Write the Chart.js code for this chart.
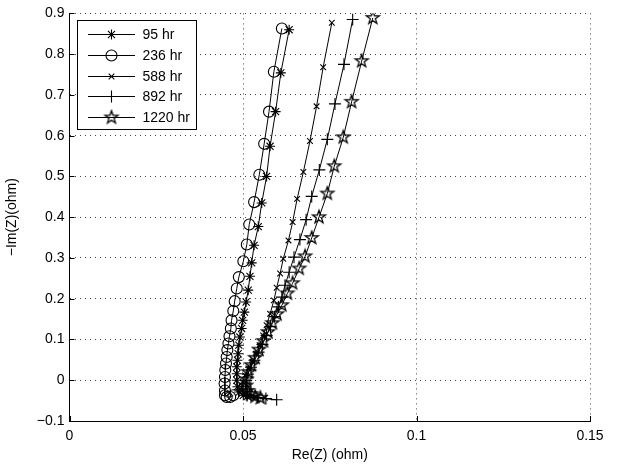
<!DOCTYPE html>
<html><head><meta charset="utf-8">
<script src="https://cdn.jsdelivr.net/npm/chart.js@4.4.1/dist/chart.umd.min.js"></script>
<style>html,body{margin:0;padding:0;background:#fff;overflow:hidden}canvas{display:block}</style>
</head><body>
<canvas id="c" width="617" height="466"></canvas>
<script>
const seriesNames = ['95 hr', '236 hr', '588 hr', '892 hr', '1220 hr'];

const re95 = [0.0633,0.0609,0.0594,0.0578,0.0568,0.0554,0.0544,0.0532,0.0525,0.0520,0.0515,0.0509,0.0504,0.0499,0.0496,0.0491,0.0488,0.0486,0.0484,0.0482,0.0482,0.0482,0.0484,0.0489,0.0501,0.0512];
const im95 = [0.860,0.754,0.659,0.574,0.500,0.435,0.377,0.331,0.288,0.255,0.221,0.192,0.167,0.147,0.127,0.106,0.086,0.065,0.049,0.033,0.016,0.000,-0.016,-0.029,-0.037,-0.040];

const re236 = [0.0612,0.0589,0.0575,0.0561,0.0547,0.0532,0.0518,0.0511,0.0501,0.0488,0.0482,0.0476,0.0472,0.0467,0.0465,0.0461,0.0458,0.0455,0.0453,0.0451,0.0449,0.0448,0.0447,0.0448,0.0448,0.0453,0.0463,0.0472];
const im236 = [0.863,0.757,0.659,0.580,0.504,0.437,0.382,0.333,0.292,0.253,0.225,0.194,0.170,0.147,0.127,0.108,0.090,0.074,0.057,0.041,0.025,0.008,-0.008,-0.025,-0.037,-0.041,-0.041,-0.037];

const re588 = [0.0756,0.0731,0.0712,0.0693,0.0674,0.0656,0.0643,0.0631,0.0616,0.0607,0.0597,0.0589,0.0578,0.0568,0.0558,0.0548,0.0537,0.0527,0.0516,0.0506,0.0499,0.0496,0.0501,0.0514,0.0535,0.0563];
const im588 = [0.877,0.768,0.672,0.587,0.511,0.445,0.388,0.343,0.298,0.262,0.227,0.196,0.163,0.135,0.110,0.086,0.065,0.045,0.029,0.012,-0.004,-0.018,-0.031,-0.039,-0.043,-0.043];

const re892 = [0.0816,0.0791,0.0765,0.0743,0.0720,0.0698,0.0682,0.0664,0.0647,0.0633,0.0621,0.0612,0.0602,0.0591,0.0579,0.0568,0.0556,0.0545,0.0533,0.0523,0.0514,0.0509,0.0507,0.0512,0.0523,0.0543,0.0566,0.0597];
const im892 = [0.885,0.775,0.678,0.591,0.516,0.451,0.394,0.345,0.302,0.265,0.233,0.204,0.180,0.156,0.132,0.110,0.088,0.069,0.049,0.032,0.015,-0.001,-0.016,-0.028,-0.037,-0.043,-0.045,-0.048];

const re1220 = [0.0874,0.0842,0.0813,0.0789,0.0763,0.0743,0.0719,0.0698,0.0679,0.0662,0.0643,0.0628,0.0612,0.0598,0.0585,0.0572,0.0559,0.0546,0.0535,0.0524,0.0516,0.0510,0.0509,0.0513,0.0522,0.0535,0.0550];
const im1220 = [0.889,0.783,0.683,0.596,0.525,0.458,0.400,0.349,0.304,0.274,0.238,0.213,0.184,0.162,0.140,0.118,0.096,0.075,0.055,0.037,0.020,0.002,-0.013,-0.026,-0.034,-0.040,-0.043];

const xTickValues = [0, 0.05, 0.1, 0.15];
const xTickLabels = ['0', '0.05', '0.1', '0.15'];
const yTickValues = [-0.1, 0, 0.1, 0.2, 0.3, 0.4, 0.5, 0.6, 0.7, 0.8, 0.9];
const yTickLabels = ['\u22120.1', '0', '0.1', '0.2', '0.3', '0.4', '0.5', '0.6', '0.7', '0.8', '0.9'];
const xTitle = 'Re(Z) (ohm)';
const yTitle = '\u2212Im(Z)(ohm)';

// pentagram marker (unfilled, black outline)
function makePentagram(r) {
  const s = Math.ceil(r * 2 + 4);
  const cv = document.createElement('canvas');
  cv.width = s; cv.height = s;
  const g = cv.getContext('2d');
  const c = s / 2, ri = r * 0.40;
  g.beginPath();
  for (let i = 0; i < 10; i++) {
    const a = -Math.PI / 2 + i * Math.PI / 5;
    const rr = i % 2 === 0 ? r : ri;
    const px = c + rr * Math.cos(a), py = c + rr * Math.sin(a);
    if (i === 0) g.moveTo(px, py); else g.lineTo(px, py);
  }
  g.closePath();
  g.strokeStyle = '#000'; g.lineWidth = 1.3; g.lineJoin = 'miter';
  g.stroke();
  return cv;
}
const pentagram = makePentagram(6.8);

const styles = [
  {pointStyle: 'star', radius: 5},
  {pointStyle: 'circle', radius: 5.5},
  {pointStyle: 'crossRot', radius: 4},
  {pointStyle: 'cross', radius: 6},
  {pointStyle: pentagram, radius: 6}
];
const reArr = [re95, re236, re588, re892, re1220];
const imArr = [im95, im236, im588, im892, im1220];

const datasets = seriesNames.map((name, k) => ({
  label: name,
  data: reArr[k].map((x, i) => ({x: x, y: imArr[k][i]})),
  showLine: true,
  borderColor: '#000',
  borderWidth: 1,
  backgroundColor: 'rgba(0,0,0,0)',
  pointBorderColor: '#000',
  pointBackgroundColor: 'rgba(0,0,0,0)',
  pointBorderWidth: 1.1,
  pointStyle: styles[k].pointStyle,
  pointRadius: styles[k].radius,
  pointHoverRadius: styles[k].radius,
  tension: 0
}));

function drawMarker(ctx, style, r, x, y) {
  ctx.save();
  ctx.strokeStyle = '#000'; ctx.lineWidth = 1.1;
  ctx.beginPath();
  if (style === 'circle') {
    ctx.arc(x, y, r, 0, Math.PI * 2);
  } else if (style === 'cross' || style === 'star') {
    ctx.moveTo(x - r, y); ctx.lineTo(x + r, y);
    ctx.moveTo(x, y - r); ctx.lineTo(x, y + r);
    if (style === 'star') {
      const d = r * Math.SQRT1_2;
      ctx.moveTo(x - d, y - d); ctx.lineTo(x + d, y + d);
      ctx.moveTo(x - d, y + d); ctx.lineTo(x + d, y - d);
    }
  } else if (style === 'crossRot') {
    const d = r * Math.SQRT1_2;
    ctx.moveTo(x - d, y - d); ctx.lineTo(x + d, y + d);
    ctx.moveTo(x - d, y + d); ctx.lineTo(x + d, y - d);
  }
  ctx.stroke();
  if (style instanceof HTMLCanvasElement) {
    ctx.drawImage(style, x - style.width / 2, y - style.height / 2);
  }
  ctx.restore();
}

const matlabPlugin = {
  id: 'matlab',
  afterDatasetsDraw(chart) {
    const ctx = chart.ctx;
    const xs = chart.scales.x, ys = chart.scales.y;
    const area = chart.chartArea;
    ctx.save();
    ctx.strokeStyle = '#000';
    ctx.lineWidth = 1;
    ctx.beginPath();
    xTickValues.forEach(v => {
      const px = Math.round(xs.getPixelForValue(v)) + 0.5;
      ctx.moveTo(px, area.bottom); ctx.lineTo(px, area.bottom - 5);
    });
    yTickValues.forEach(v => {
      const py = Math.round(ys.getPixelForValue(v)) + 0.5;
      ctx.moveTo(area.left, py); ctx.lineTo(area.left + 5, py);
    });
    ctx.stroke();

    // legend
    ctx.font = '14px "Liberation Sans", Arial, sans-serif';
    let maxW = 0;
    seriesNames.forEach(n => { maxW = Math.max(maxW, ctx.measureText(n).width); });
    const bx = 77.5, by = 20.5, textX = 142.5;
    const bw = Math.round(textX + maxW + 7 - bx), rowH = 20.8, row0 = 34;
    const bh = Math.round(row0 - by + rowH * 4 + 12);
    ctx.fillStyle = '#fff';
    ctx.fillRect(bx, by, bw, bh);
    ctx.strokeRect(bx, by, bw, bh);
    ctx.textBaseline = 'middle';
    ctx.textAlign = 'left';
    seriesNames.forEach((n, k) => {
      const yy = Math.round(row0 + k * rowH) + 0.5;
      ctx.beginPath();
      ctx.moveTo(88, yy); ctx.lineTo(135, yy);
      ctx.stroke();
      drawMarker(ctx, styles[k].pointStyle, styles[k].radius, 111.5, yy);
      ctx.fillStyle = '#000';
      ctx.fillText(n, textX, yy + 1);
    });
    ctx.restore();
  }
};

Chart.defaults.font.family = '"Liberation Sans", Arial, Helvetica, sans-serif';
Chart.defaults.font.size = 14;
Chart.defaults.color = '#000';

new Chart(document.getElementById('c'), {
  type: 'scatter',
  data: {datasets: datasets},
  options: {
    responsive: false,
    animation: false,
    devicePixelRatio: 1,
    layout: {padding: {top: 13, right: 27, left: 0, bottom: 0}},
    plugins: {legend: {display: false}, tooltip: {enabled: false}},
    elements: {line: {borderWidth: 1}},
    scales: {
      x: {
        type: 'linear', min: 0, max: 0.15,
        afterBuildTicks: s => { s.ticks = xTickValues.map(v => ({value: v})); },
        afterFit: s => { s.height = 45; },
        ticks: {padding: 7, callback: (v, i) => xTickLabels[i], maxRotation: 0, autoSkip: false},
        grid: {color: '#444', lineWidth: 1, drawTicks: false},
        border: {display: true, color: '#000', width: 1, dash: [1, 4]},
        title: {display: true, text: xTitle, padding: {top: 0, bottom: 2}}
      },
      y: {
        type: 'linear', min: -0.1, max: 0.9,
        afterBuildTicks: s => { s.ticks = yTickValues.map(v => ({value: v})); },
        afterFit: s => { s.width = 69.5; },
        ticks: {padding: 5, callback: (v, i) => yTickLabels[i], autoSkip: false},
        grid: {color: '#444', lineWidth: 1, drawTicks: false},
        border: {display: true, color: '#000', width: 1, dash: [1, 4]},
        title: {display: true, text: yTitle, padding: {top: 4, bottom: 0}}
      }
    }
  },
  plugins: [matlabPlugin]
});
</script>
</body></html>
